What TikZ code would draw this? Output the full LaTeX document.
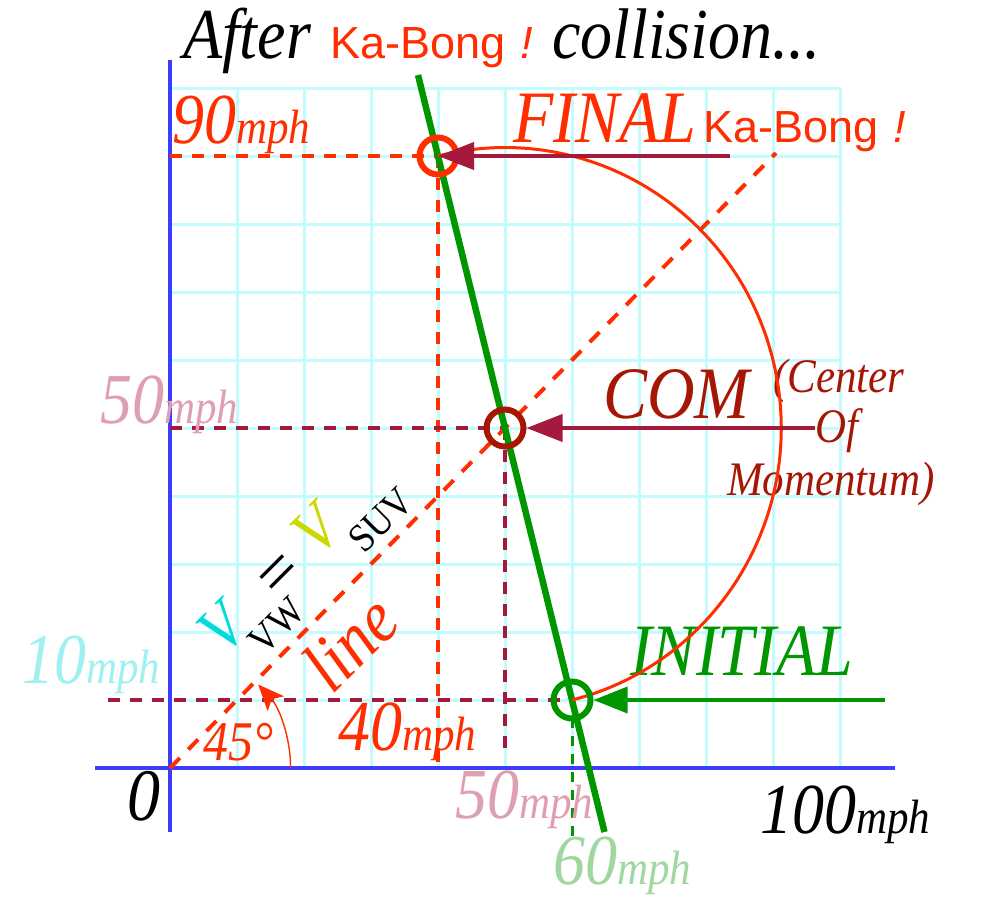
\documentclass[tikz,border=0pt]{standalone}
\usepackage{graphicx}
\usepackage{fontspec}
\setmainfont{Liberation Serif}
\newfontfamily\kasans{Liberation Sans}
\usetikzlibrary{arrows.meta}
\definecolor{redA}{RGB}{255,45,0}
\definecolor{maroonA}{RGB}{165,25,60}
\definecolor{comred}{RGB}{165,22,5}
\definecolor{pinkA}{RGB}{222,160,176}
\definecolor{paleCyan}{RGB}{160,240,240}
\definecolor{paleGreen}{RGB}{160,215,160}
\definecolor{greenA}{RGB}{0,150,0}
\definecolor{blueA}{RGB}{60,60,255}
\definecolor{gridC}{RGB}{195,252,252}
\definecolor{cyanV}{RGB}{0,220,220}
\definecolor{yellowV}{RGB}{205,215,0}
\newcommand{\numf}{\fontsize{64}{70}\selectfont\itshape}
\newcommand{\mphf}{\fontsize{43}{48}\selectfont\itshape}
\newcommand{\labf}{\fontsize{66}{72}\selectfont\itshape}
\newcommand{\comf}{\fontsize{43}{48}\selectfont\itshape}
\newcommand{\kaf}{\fontsize{45}{50}\selectfont\kasans}
\newcommand{\exf}{\fontsize{45}{50}\selectfont\kasans\itshape}
\newcommand{\mphtxt}{{\mphf mph}}
\newcommand{\tallt}[1]{\scalebox{1}[1.12]{#1}}
\begin{document}
\begin{tikzpicture}[x=1pt,y=-1pt,
  gridline/.style={draw=gridC,line width=3pt},
  axisline/.style={draw=blueA,line width=3.5pt},
  reddash/.style={draw=redA,line width=3.5pt,dash pattern=on 12pt off 10pt},
  diagdash/.style={draw=redA,line width=4pt,dash pattern=on 14pt off 12pt},
  maroondash/.style={draw=maroonA,line width=3.5pt,dash pattern=on 12pt off 10pt},
  greendash/.style={draw=greenA,line width=3pt,dash pattern=on 10pt off 8pt},
  greenline/.style={draw=greenA,line width=6.5pt},
  arcred/.style={draw=redA,line width=3pt},
  anglearc/.style={draw=redA,line width=1.4pt,-{Stealth[length=26pt,width=22pt,inset=6pt]}},
  marrow/.style={draw=maroonA,fill=maroonA,line width=4pt,-{Triangle[length=36pt,width=27pt]}},
  garrow/.style={draw=greenA,fill=greenA,line width=3.5pt,-{Triangle[length=34pt,width=26pt]}},
  ring/.style={circle,draw,line width=6pt,minimum size=37pt,inner sep=0pt},
  lbl/.style={anchor=base west,inner sep=0pt,outer sep=0pt},
  rot/.style={rotate=45,inner sep=0pt}]
\useasboundingbox (0,0) rectangle (982,898);

% grid
\foreach \k in {1,...,10}{
  \draw[gridline] ({170+67*\k},768) -- ({170+67*\k},88);
  \draw[gridline] (170,{768-68*\k}) -- (840,{768-68*\k});
}

% axes
\coordinate (xl) at (95,768);
\coordinate (xr) at (895,768);
\coordinate (yt) at (170,60);
\coordinate (yb) at (170,832);
\draw[axisline] (xl) -- (xr);
\draw[axisline] (yt) -- (yb);

% key points
\coordinate (O) at (170,768);
\coordinate (F) at (438,156);
\coordinate (C) at (505,428);
\coordinate (I) at (572,700);

% guide lines
\coordinate (y90) at (170,156);
\coordinate (x40) at (438,766);
\coordinate (y50) at (170,428);
\coordinate (x50) at (505,752);
\coordinate (y10) at (108,700);
\coordinate (x60) at (572,836);
\coordinate (dEnd) at (776,153);
\draw[reddash] (y90) -- (F);
\draw[reddash] (F) -- (x40);
\draw[maroondash] (y50) -- (C);
\draw[maroondash] (C) -- (x50);
\draw[maroondash] (y10) -- (I);
\draw[greendash] (I) -- (x60);
\draw[diagdash] (O) -- (dEnd);

% texts
\node[lbl,font=\numf] (tAfter) at (183,58) {\tallt{After}};
\node[lbl,font=\kaf,text=redA] (tKa) at (330,58) {Ka-Bong};
\node[lbl,font=\exf,text=redA] (tEx) at (520,58) {!};
\node[lbl,font=\numf] (tColl) at (552,58) {\tallt{collision...}};

\node[lbl,font=\numf,text=redA] (t90) at (172,143) {\tallt{90\mphtxt}};
\node[lbl,font=\labf,text=redA] (tFinal) at (513,142) {\tallt{FINAL}};
\node[lbl,font=\kaf,text=redA] (tKa2) at (703,142) {Ka-Bong};
\node[lbl,font=\exf,text=redA] (tEx2) at (893,142) {!};

\node[lbl,font=\numf,text=pinkA] (t50l) at (100,423) {\tallt{50\mphtxt}};
\node[lbl,font=\numf,text=paleCyan] (t10) at (22,683) {\tallt{10\mphtxt}};
\node[lbl,font=\labf,text=comred] (tCOM) at (603,418) {\tallt{COM}};
\node[lbl,font=\comf,text=comred] (tCen) at (773,392) {\tallt{(Center}};
\node[lbl,font=\comf,text=comred] (tOf) at (815,442) {\tallt{Of}};
\node[lbl,font=\comf,text=comred] (tMom) at (727,495) {\tallt{Momentum)}};
\node[lbl,font=\labf,text=greenA] (tIni) at (630,675) {\tallt{INITIAL}};
\node[lbl,font=\numf,text=redA] (t40) at (338,750) {\tallt{40\mphtxt}};
\node[lbl,font=\fontsize{50}{55}\selectfont\itshape,text=redA] (t45) at (203,760) {\tallt{45°}};
\node[lbl,font=\fontsize{66}{72}\selectfont\itshape] (t0) at (127,820) {\tallt{0}};
\node[lbl,font=\numf,text=pinkA] (t50b) at (455,818) {\tallt{50\mphtxt}};
\node[lbl,font=\numf] (t100) at (760,833) {\tallt{100\mphtxt}};
\node[lbl,font=\numf,text=paleGreen] (t60) at (553,884) {\tallt{60\mphtxt}};

% rotated formula along the diagonal
\node[rot,font=\fontsize{60}{64}\selectfont\itshape,text=cyanV] (fV1) at (222,628) {\tallt{V}};
\node[rot,font=\fontsize{36}{40}\selectfont] (fVW) at (277,626) {\tallt{VW}};
\node[rot,font=\fontsize{68}{72}\selectfont] (fEq) at (282,577) {=};
\node[rot,font=\fontsize{60}{64}\selectfont\itshape,text=yellowV] (fV2) at (316,530) {\tallt{V}};
\node[rot,font=\fontsize{36}{40}\selectfont] (fSUV) at (381,520) {\tallt{SUV}};
\node[rot,font=\fontsize{66}{70}\selectfont\itshape,text=redA] (fLine) at (350,643) {\tallt{line}};

% momentum line
\coordinate (gT) at (418,75);
\coordinate (gB) at (604.5,832);
\draw[greenline] (gT) -- (gB);

% circle of equal kinetic energy (semicircle about COM)
\draw[arcred] (I) arc[start angle=75.96, end angle=-104.04, x radius=276.2, y radius=280.4];

% 45 degree arc
\coordinate (a0) at (290.6,768);
\draw[anglearc] (a0) arc[start angle=0, end angle=-43, x radius=120.6, y radius=122.4];

% circles
\node[ring,draw=redA] (fin) at (F) {};
\node[ring,draw=comred] (com) at (C) {};
\node[ring,draw=greenA] (ini) at (I) {};

% arrows
\coordinate (fa) at (730,156);
\coordinate (ca) at (815,428);
\coordinate (ia) at (885,700);
\draw[marrow] (fa) -- (fin.center);
\draw[marrow] (ca) -- (com);
\draw[garrow] (ia) -- (ini);
\end{tikzpicture}
\end{document}
